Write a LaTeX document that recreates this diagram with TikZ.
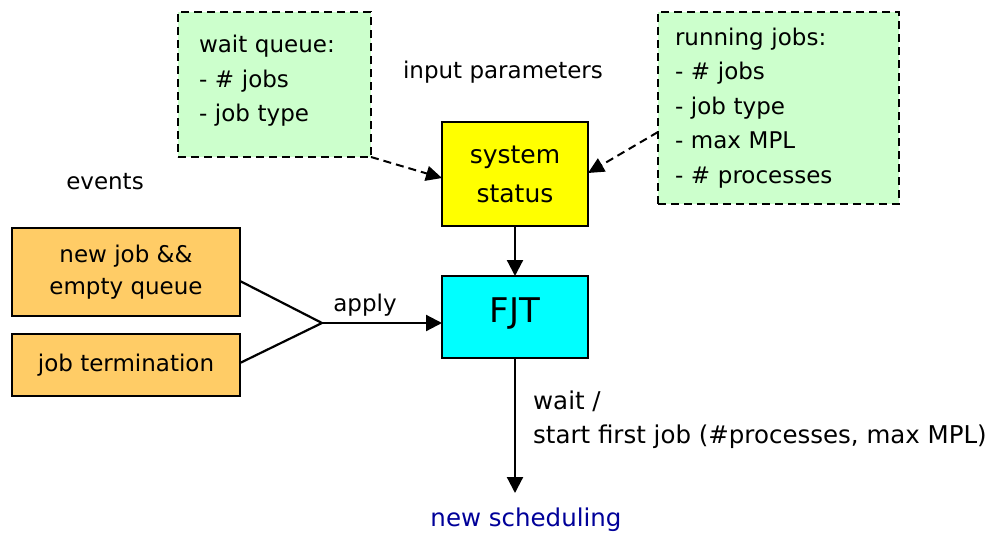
\documentclass[tikz,border=0pt]{standalone}
\usepackage{fontspec}
\setmainfont{DejaVu Sans}
\usetikzlibrary{arrows.meta,positioning,calc}
\definecolor{InfoG}{RGB}{204,255,204}
\definecolor{EvOr}{RGB}{255,204,102}
\definecolor{SysY}{RGB}{255,255,0}
\definecolor{FjtC}{RGB}{0,255,255}
\definecolor{NewSc}{RGB}{0,0,153}
\tikzset{
  box/.style={rectangle,draw=black,line width=2.2pt,inner sep=0pt,outer sep=0pt,
              align=center,anchor=north west,font=\fontsize{23}{32}\selectfont},
  infobox/.style={box,dash pattern=on 8pt off 5pt,line width=2pt,fill=InfoG,
                  align=left,font=\fontsize{23}{34.5}\selectfont},
  evbox/.style={box,fill=EvOr,minimum width=228pt},
  sysbox/.style={box,fill=SysY,minimum width=146pt,minimum height=104pt,
                 font=\fontsize{25}{39}\selectfont},
  fjtbox/.style={box,fill=FjtC,minimum width=146pt,minimum height=82pt,
                 font=\fontsize{34}{40}\selectfont},
  lbl/.style={font=\fontsize{23}{34}\selectfont,inner sep=0pt},
  evline/.style={line width=2.2pt},
  flow/.style={-{Triangle[length=16pt,width=16pt]},line width=2.2pt},
  feed/.style={-{Triangle[length=16pt,width=15pt]},line width=2pt,
               dash pattern=on 8pt off 5pt},
}

\begin{document}
\begin{tikzpicture}[x=1pt,y=-1pt]
  \useasboundingbox (0,0) rectangle (993,538);
  % status inputs
  \node[infobox,minimum height=145pt,text width=151pt,inner xsep=21pt] (waitq) at (178,12)
    {wait queue:\\- \# jobs\\- job type\rule[-12pt]{0pt}{0pt}};
  \node[infobox,minimum height=192pt,text width=207pt,inner xsep=17pt] (runj) at (658,12)
    {running jobs:\\- \# jobs\\- job type\\- max MPL\\- \# processes};
  \node[lbl] (inpar) at (503,72) {input parameters};
  \node[sysbox] (sys) at (442,122) {system\\status};
  \node[fjtbox] (fjt) at (442,276) {FJT\rule[-14pt]{0pt}{0pt}};
  % events
  \node[lbl] (events) at (105,182) {events};
  \node[evbox,minimum height=88pt] (evnew) at (12,228) {new job \&\&\\empty queue};
  \node[evbox,minimum height=62pt] (evterm) at (12,334) {job termination};
  \coordinate (merge) at (322,323);
  \node[lbl] (apply) at (365,305) {apply};
  % result
  \coordinate (schend) at (515,493);
  \node[lbl,anchor=west,align=left,font=\fontsize{24.5}{34}\selectfont] (decis) at (533,420)
    {wait /\\start first job (\#processes, max MPL)};
  \node[lbl,text=NewSc,font=\fontsize{24.5}{30}\selectfont] (newsch) at (526,520) {new scheduling};

  \draw[feed] (waitq.south east) -- ([yshift=-4pt]sys.west);
  \draw[feed] ([yshift=-24pt]runj.west) -- ([yshift=1pt]sys.east);
  \draw[flow] (sys) -- (fjt);
  \draw[evline] ([yshift=-9pt]evnew.east) -- (merge) -- ([yshift=2pt]evterm.east);
  \draw[flow] (merge) -- (merge -| fjt.west);
  \draw[flow] (fjt) -- (schend);
\end{tikzpicture}
\end{document}
